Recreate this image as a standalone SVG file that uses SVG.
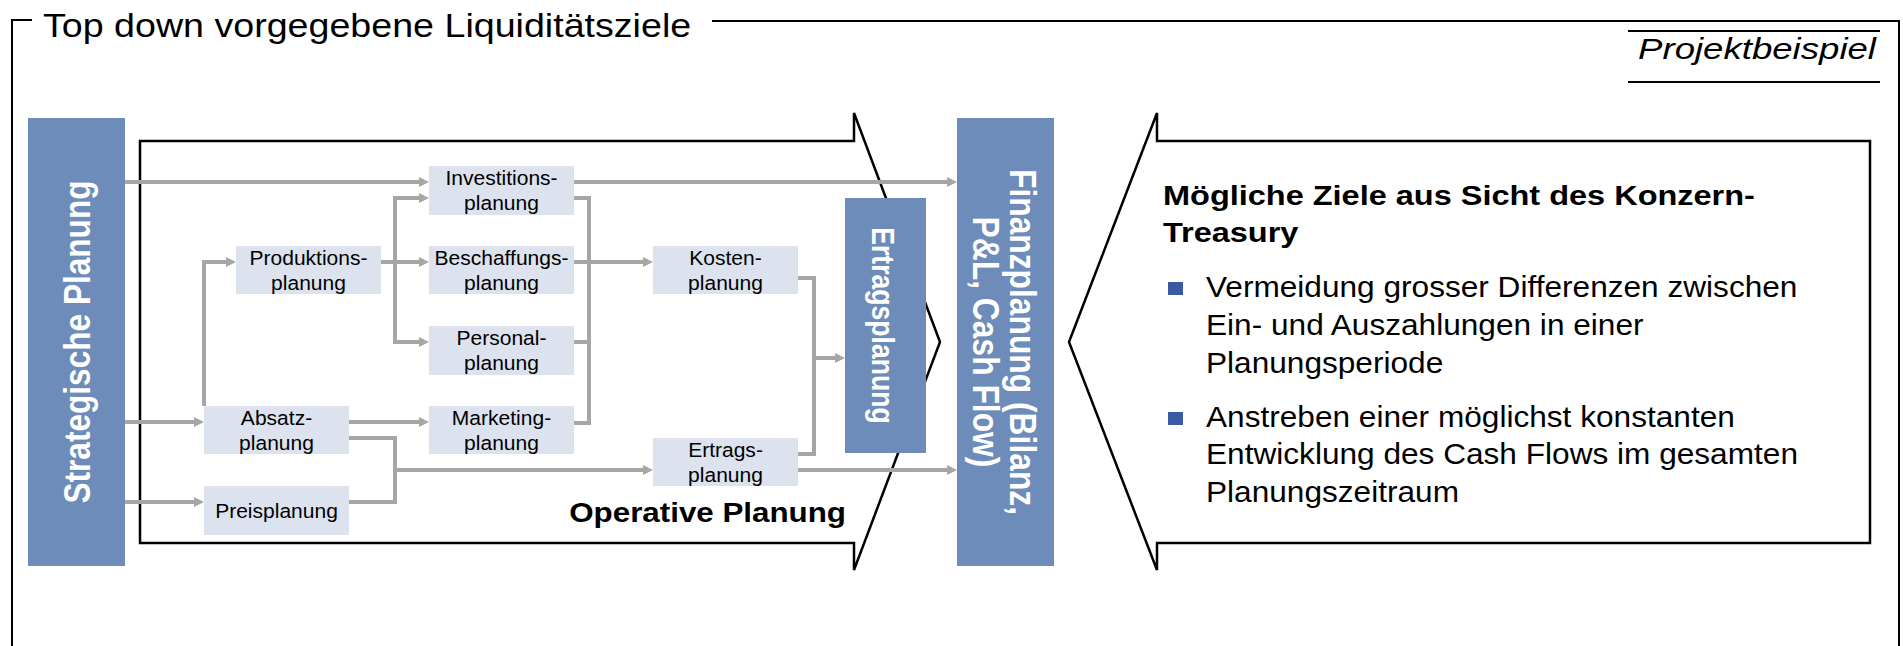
<svg xmlns="http://www.w3.org/2000/svg" width="1903" height="646" viewBox="0 0 1903 646">
<defs>
<style>
.frame{fill:none;stroke:#000;stroke-width:2}
.big{fill:#fff;stroke:#000;stroke-width:2.5;stroke-linejoin:miter}
.blue{fill:#6E8CB9}
.light{fill:#DCE3EF}
.lbl{font-family:"Liberation Sans",Arial,sans-serif;font-size:19.3px;fill:#000;text-anchor:middle}
.wt{font-family:"Liberation Sans",Arial,sans-serif;font-weight:bold;fill:#fff;text-anchor:middle}
.con{fill:none;stroke:#A6A6A6;stroke-width:4}
.arr{marker-end:url(#ah)}
.txt{font-family:"Liberation Sans",Arial,sans-serif;fill:#000}
.bul{fill:#3C59A4}
</style>
<marker id="ah" markerUnits="userSpaceOnUse" markerWidth="10" markerHeight="10" refX="0" refY="5" orient="auto" viewBox="0 0 10 10">
<path d="M0,0 L10,5 L0,10 z" fill="#A6A6A6"/>
</marker>
</defs>
<rect width="1903" height="646" fill="#fff"/>

<g id="frame">
<path class="frame" d="M32,20 H12 V646"/>
<path class="frame" d="M712,21 H1899 V646"/>
<text class="txt" font-size="33" transform="translate(43 37) scale(1.14 1)">Top down vorgegebene Liquiditätsziele</text>
</g>

<g id="projektbeispiel">
<path class="frame" d="M1628,31 H1880 M1628,82 H1880"/>
<text class="txt" font-size="30" font-style="italic" text-anchor="end" transform="translate(1876 59) scale(1.22 1)">Projektbeispiel</text>
</g>

<g id="operative-planung">
<polygon class="big" points="140,141 854,141 854,113 940,342 854,570 854,543 140,543"/>
<text class="txt" font-size="28.5" font-weight="bold" text-anchor="end" transform="translate(846 522) scale(1.1 1)">Operative Planung</text>
</g>

<g id="ziele">
<polygon class="big" points="1157,141 1870,141 1870,543 1157,543 1157,570 1069,342 1157,113"/>
<text class="txt" font-size="28.5" font-weight="bold" transform="translate(1163 205) scale(1.14 1)"><tspan x="0" y="0">Mögliche Ziele aus Sicht des Konzern-</tspan><tspan x="0" y="37">Treasury</tspan></text>
<rect class="bul" x="1168" y="282" width="15" height="13"/>
<rect class="bul" x="1168" y="412" width="15" height="13"/>
<text class="txt" font-size="29" transform="translate(1206 297) scale(1.09 1)"><tspan x="0" y="0">Vermeidung grosser Differenzen zwischen</tspan><tspan x="0" y="38">Ein- und Auszahlungen in einer</tspan><tspan x="0" y="76">Planungsperiode</tspan></text>
<text class="txt" font-size="29" transform="translate(1206 427) scale(1.09 1)"><tspan x="0" y="0">Anstreben einer möglichst konstanten</tspan><tspan x="0" y="37.5">Entwicklung des Cash Flows im gesamten</tspan><tspan x="0" y="75">Planungszeitraum</tspan></text>
</g>

<g id="strategische-planung">
<rect class="blue" x="28" y="118" width="97" height="448"/>
<text class="wt" font-size="31.6" transform="translate(90 342) scale(1.15 1) rotate(-90)">Strategische Planung</text>
</g>

<g id="finanzplanung">
<rect class="blue" x="957" y="118" width="97" height="448"/>
<text class="wt" font-size="31.8" transform="translate(1010 342) scale(1.15 1) rotate(90)">Finanzplanung (Bilanz,</text>
<text class="wt" font-size="31.8" transform="translate(973 342) scale(1.15 1) rotate(90)">P&amp;L, Cash Flow)</text>
</g>

<g id="ertragsplanung">
<rect class="blue" x="845" y="198" width="81" height="255"/>
<text class="wt" font-size="26.6" transform="translate(872 325.5) scale(1.15 1) rotate(90)">Ertragsplanung</text>
</g>

<g id="produktionsplanung">
<rect class="light" x="236" y="246" width="145" height="48"/>
<text class="lbl" transform="translate(308.5 0) scale(1.09 1)"><tspan x="0" y="265">Produktions-</tspan><tspan x="0" y="290.5">planung</tspan></text>
</g>
<g id="absatzplanung">
<rect class="light" x="204" y="406" width="145" height="48"/>
<text class="lbl" transform="translate(276.5 0) scale(1.09 1)"><tspan x="0" y="425">Absatz-</tspan><tspan x="0" y="450.5">planung</tspan></text>
</g>
<g id="preisplanung">
<rect class="light" x="204" y="486" width="145" height="49"/>
<text class="lbl" transform="translate(276.5 0) scale(1.09 1)"><tspan x="0" y="518">Preisplanung</tspan></text>
</g>
<g id="investitionsplanung">
<rect class="light" x="429" y="166" width="145" height="49"/>
<text class="lbl" transform="translate(501.5 0) scale(1.09 1)"><tspan x="0" y="185">Investitions-</tspan><tspan x="0" y="210.5">planung</tspan></text>
</g>
<g id="beschaffungsplanung">
<rect class="light" x="429" y="246" width="145" height="48"/>
<text class="lbl" transform="translate(501.5 0) scale(1.09 1)"><tspan x="0" y="265">Beschaffungs-</tspan><tspan x="0" y="290.5">planung</tspan></text>
</g>
<g id="personalplanung">
<rect class="light" x="429" y="326" width="145" height="49"/>
<text class="lbl" transform="translate(501.5 0) scale(1.09 1)"><tspan x="0" y="345">Personal-</tspan><tspan x="0" y="370.5">planung</tspan></text>
</g>
<g id="marketingplanung">
<rect class="light" x="429" y="406" width="145" height="48"/>
<text class="lbl" transform="translate(501.5 0) scale(1.09 1)"><tspan x="0" y="425">Marketing-</tspan><tspan x="0" y="450.5">planung</tspan></text>
</g>
<g id="kostenplanung">
<rect class="light" x="653" y="246" width="145" height="48"/>
<text class="lbl" transform="translate(725.5 0) scale(1.09 1)"><tspan x="0" y="265">Kosten-</tspan><tspan x="0" y="290.5">planung</tspan></text>
</g>
<g id="ertragsplanung-op">
<rect class="light" x="653" y="438" width="145" height="48"/>
<text class="lbl" transform="translate(725.5 0) scale(1.09 1)"><tspan x="0" y="457">Ertrags-</tspan><tspan x="0" y="482.5">planung</tspan></text>
</g>

<g id="connectors">
<path class="con arr" d="M125,182 H419"/>
<path class="con arr" d="M574,182 H947"/>
<path class="con arr" d="M125,422 H194"/>
<path class="con arr" d="M125,502 H194"/>
<path class="con arr" d="M204,406 V262 H226"/>
<path class="con arr" d="M381,262 H419"/>
<path class="con" d="M395,198 V342"/>
<path class="con arr" d="M393,198 H419"/>
<path class="con arr" d="M393,342 H419"/>
<path class="con arr" d="M349,422 H419"/>
<path class="con" d="M349,438 H395 V502 H349"/>
<path class="con arr" d="M395,470 H643"/>
<path class="con" d="M574,198 H589 V423 H574"/>
<path class="con" d="M574,342 H589"/>
<path class="con arr" d="M574,262 H643"/>
<path class="con" d="M798,278 H814 V454 H798"/>
<path class="con arr" d="M814,358 H835"/>
<path class="con arr" d="M798,470 H947"/>
</g>
</svg>
